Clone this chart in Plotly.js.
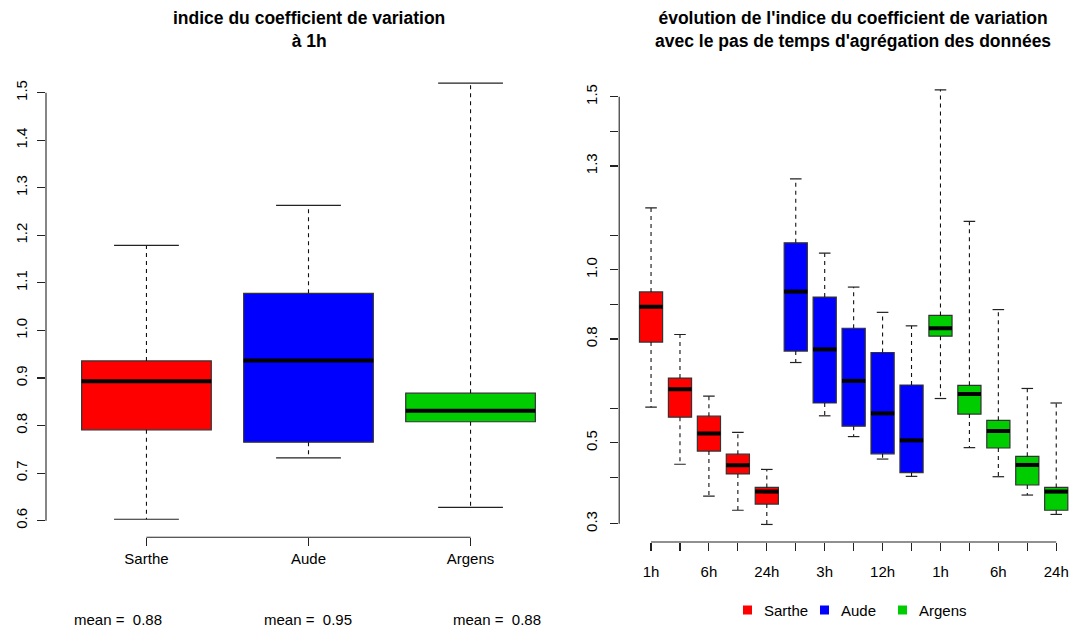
<!DOCTYPE html>
<html>
<head>
<meta charset="utf-8">
<script src="https://cdn.plot.ly/plotly-3.0.1.min.js"></script>
<style>html,body{margin:0;padding:0;background:#fff;}#chart{width:1071px;height:628px;}</style>
</head>
<body>
<div id="chart"></div>
<script>
// ---- data ----
const rivers = ['Sarthe', 'Aude', 'Argens'];
const colors = ['#FF0000', '#0000FF', '#00CD00'];
const means = [0.88, 0.95, 0.88];
const steps = ['1h', '3h', '6h', '12h', '24h'];

// box statistics per river, one value per aggregation step (1h,3h,6h,12h,24h)
const sartheLow  = [0.603, 0.438, 0.346, 0.305, 0.264];
const sartheQ1   = [0.791, 0.574, 0.476, 0.410, 0.323];
const sartheMed  = [0.893, 0.655, 0.527, 0.435, 0.359];
const sartheQ3   = [0.936, 0.687, 0.577, 0.467, 0.371];
const sartheHigh = [1.179, 0.813, 0.635, 0.530, 0.423];

const audeLow  = [0.732, 0.578, 0.518, 0.453, 0.403];
const audeQ1   = [0.765, 0.615, 0.548, 0.468, 0.414];
const audeMed  = [0.937, 0.770, 0.679, 0.585, 0.507];
const audeQ3   = [1.078, 0.921, 0.831, 0.761, 0.667];
const audeHigh = [1.263, 1.048, 0.950, 0.877, 0.838];

const argensLow  = [0.628, 0.486, 0.402, 0.349, 0.293];
const argensQ1   = [0.808, 0.583, 0.485, 0.378, 0.305];
const argensMed  = [0.831, 0.641, 0.534, 0.436, 0.359];
const argensQ3   = [0.868, 0.666, 0.565, 0.461, 0.371];
const argensHigh = [1.520, 1.140, 0.885, 0.657, 0.615];

// tick labels
const leftYTicks = [0.6, 0.7, 0.8, 0.9, 1.0, 1.1, 1.2, 1.3, 1.4, 1.5];
const leftYLabels = ['0.6', '0.7', '0.8', '0.9', '1.0', '1.1', '1.2', '1.3', '1.4', '1.5'];
const rightYTicks = [0.266, 0.4, 0.5, 0.6, 0.8, 0.9, 1.0, 1.1, 1.3, 1.4, 1.5];
const rightYLabels = ['0.3', '', '0.5', '', '0.8', '', '1.0', '', '1.3', '', '1.5'];
const rightXLabels = ['1h', '', '6h', '', '24h', '', '3h', '', '12h', '', '1h', '', '6h', '', '24h'];

const title1 = 'indice du coefficient de variation<br>à 1h';
const title2 = "évolution de l'indice du coefficient de variation<br>avec le pas de temps d'agrégation des données";

// ---- build ----
const stats = [
  {low: sartheLow, q1: sartheQ1, med: sartheMed, q3: sartheQ3, high: sartheHigh},
  {low: audeLow, q1: audeQ1, med: audeMed, q3: audeQ3, high: audeHigh},
  {low: argensLow, q1: argensQ1, med: argensMed, q3: argensQ3, high: argensHigh}
];

const W = 1071, H = 628;
const px = v => v / W;
const py = v => 1 - v / H;
const FONT = 'Liberation Sans, Arial, Helvetica, sans-serif';
const BOXW = 0.8;

const traces = [];
function addDecor(xs, lows, q1s, meds, q3s, highs, xa, ya) {
  const wx = [], wy = [], cx = [], cy = [], mx = [], my = [];
  xs.forEach((x, i) => {
    wx.push(x, x, null, x, x, null);
    wy.push(q3s[i], highs[i], null, q1s[i], lows[i], null);
    cx.push(x - BOXW / 4, x + BOXW / 4, null, x - BOXW / 4, x + BOXW / 4, null);
    cy.push(highs[i], highs[i], null, lows[i], lows[i], null);
    mx.push(x - BOXW / 2, x + BOXW / 2, null);
    my.push(meds[i], meds[i], null);
  });
  traces.push({type: 'scatter', mode: 'lines', x: wx, y: wy, xaxis: xa, yaxis: ya,
    line: {color: '#111', width: 1.1, dash: '4px,4px'}, hoverinfo: 'skip', showlegend: false});
  traces.push({type: 'scatter', mode: 'lines', x: cx, y: cy, xaxis: xa, yaxis: ya,
    line: {color: '#222', width: 1.2}, hoverinfo: 'skip', showlegend: false});
  traces.push({type: 'scatter', mode: 'lines', x: mx, y: my, xaxis: xa, yaxis: ya,
    line: {color: '#000', width: 4}, hoverinfo: 'skip', showlegend: false});
}

// left panel: 1h only
rivers.forEach((r, k) => {
  const s = stats[k];
  traces.push({
    type: 'box', name: r, x: [k + 1], xaxis: 'x', yaxis: 'y',
    q1: [s.q1[0]], median: [s.med[0]], q3: [s.q3[0]],
    lowerfence: [s.q1[0]], upperfence: [s.q3[0]],
    width: BOXW, whiskerwidth: 0, boxpoints: false,
    fillcolor: colors[k], line: {color: '#333', width: 1.2},
    hoverinfo: 'skip', showlegend: false
  });
});
addDecor(rivers.map((r, k) => k + 1),
  stats.map(s => s.low[0]), stats.map(s => s.q1[0]), stats.map(s => s.med[0]),
  stats.map(s => s.q3[0]), stats.map(s => s.high[0]), 'x', 'y');

// right panel: all steps
let allX = [], allLow = [], allQ1 = [], allMed = [], allQ3 = [], allHigh = [];
rivers.forEach((r, k) => {
  const s = stats[k];
  const xs = steps.map((st, i) => k * steps.length + i + 1);
  traces.push({
    type: 'box', name: r, x: xs, xaxis: 'x2', yaxis: 'y2',
    q1: s.q1, median: s.med, q3: s.q3,
    lowerfence: s.q1, upperfence: s.q3,
    width: BOXW, whiskerwidth: 0, boxpoints: false,
    fillcolor: colors[k], line: {color: '#333', width: 1.2},
    hoverinfo: 'skip', showlegend: false
  });
  allX = allX.concat(xs); allLow = allLow.concat(s.low); allQ1 = allQ1.concat(s.q1);
  allMed = allMed.concat(s.med); allQ3 = allQ3.concat(s.q3); allHigh = allHigh.concat(s.high);
});
addDecor(allX, allLow, allQ1, allMed, allQ3, allHigh, 'x2', 'y2');

const nPos = rivers.length * steps.length;

// axis lines (R style: from first to last tick)
const shapes = [
  {type: 'line', xref: 'x domain', yref: 'y', x0: 0, x1: 0, y0: leftYTicks[0], y1: leftYTicks[leftYTicks.length - 1], line: {color: '#222', width: 1.1}},
  {type: 'line', xref: 'x', yref: 'y domain', x0: 1, x1: rivers.length, y0: 0, y1: 0, line: {color: '#222', width: 1.1}},
  {type: 'line', xref: 'x2 domain', yref: 'y2', x0: 0, x1: 0, y0: rightYTicks[0], y1: rightYTicks[rightYTicks.length - 1], line: {color: '#222', width: 1.1}},
  {type: 'line', xref: 'x2', yref: 'y2 domain', x0: 1, x1: nPos, y0: 0, y1: 0, line: {color: '#222', width: 1.1}}
];

const annotations = [
  {text: '<b>' + title1.replace('<br>', '</b><br><b>') + '</b>', xref: 'paper', yref: 'paper', x: px(308.5), y: py(29), xanchor: 'center', yanchor: 'middle', showarrow: false, font: {family: FONT, size: 17.5, color: '#000'}},
  {text: '<b>' + title2.replace('<br>', '</b><br><b>') + '</b>', xref: 'paper', yref: 'paper', x: px(852.5), y: py(29), xanchor: 'center', yanchor: 'middle', showarrow: false, font: {family: FONT, size: 17.5, color: '#000'}}
];

// mean labels under left panel
const meanX = [118, 308, 497];
means.forEach((m, k) => {
  annotations.push({text: 'mean =  ' + m.toFixed(2), xref: 'paper', yref: 'paper', x: px(meanX[k]), y: py(619), xanchor: 'center', yanchor: 'middle', showarrow: false, font: {family: FONT, size: 15, color: '#000'}});
});

// legend under right panel
const legendTextX = [762, 839, 917];
rivers.forEach((r, k) => {
  const lx = legendTextX[k];
  shapes.push({type: 'rect', xref: 'paper', yref: 'paper', x0: px(lx - 19), x1: px(lx - 10), y0: py(614.5), y1: py(605.5), fillcolor: colors[k], line: {width: 0}});
  annotations.push({text: r, xref: 'paper', yref: 'paper', x: px(lx), y: py(610), xanchor: 'left', yanchor: 'middle', showarrow: false, font: {family: FONT, size: 15, color: '#000'}});
});

const axisCommon = {showgrid: false, zeroline: false, showline: false, ticks: 'outside', ticklen: 8, tickwidth: 1.1, tickcolor: '#222', tickfont: {family: FONT, size: 15, color: '#000'}, fixedrange: true};

const layout = {
  width: W, height: H, autosize: false,
  margin: {l: 0, r: 0, t: 0, b: 0, pad: 0},
  paper_bgcolor: '#fff', plot_bgcolor: '#fff',
  boxmode: 'overlay',
  showlegend: false,
  xaxis: Object.assign({}, axisCommon, {domain: [px(46), px(571)], range: [0.38, 3.62], tickmode: 'array', tickvals: rivers.map((r, k) => k + 1), ticktext: rivers, anchor: 'y', ticklabelstandoff: 0}),
  yaxis: Object.assign({}, axisCommon, {domain: [py(537.3), py(65.6)], range: [0.565, 1.557], tickmode: 'array', tickvals: leftYTicks, ticktext: leftYLabels, tickangle: -90, anchor: 'x', ticklabelstandoff: 4}),
  xaxis2: Object.assign({}, axisCommon, {domain: [px(619.2), 1], range: [-0.1, 15.51], tickmode: 'array', tickvals: rightXLabels.map((t, i) => i + 1), ticktext: rightXLabels, anchor: 'y2', ticklabelstandoff: 8}),
  yaxis2: Object.assign({}, axisCommon, {domain: [py(542), py(72.9)], range: [0.2133, 1.569], tickmode: 'array', tickvals: rightYTicks, ticktext: rightYLabels, tickangle: -90, anchor: 'x2', ticklabelstandoff: 7}),
  shapes: shapes,
  annotations: annotations
};

Plotly.newPlot('chart', traces, layout, {staticPlot: true, displayModeBar: false});
</script>
</body>
</html>
